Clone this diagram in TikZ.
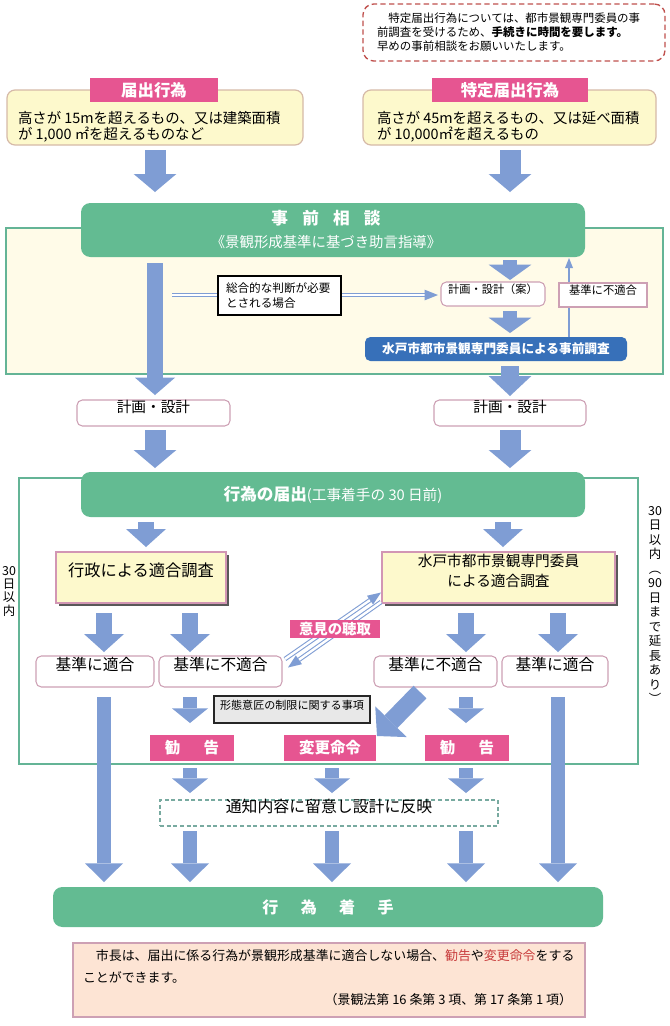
\documentclass[tikz,border=0pt]{standalone}
\usepackage{fontspec}
\setmainfont{Noto Sans CJK JP}
\usetikzlibrary{arrows.meta,calc,fit,shadows}
\newcommand{\fsz}[2]{\fontsize{#1}{#2}\selectfont}
\definecolor{arrowB}{RGB}{127,157,212}
\definecolor{greenB}{RGB}{99,187,146}
\definecolor{pinkH}{RGB}{230,85,145}
\definecolor{yfill}{RGB}{253,249,204}
\definecolor{ybord}{RGB}{214,186,168}
\definecolor{tealF}{RGB}{100,180,150}
\definecolor{frameY}{RGB}{255,251,232}
\definecolor{pbord}{RGB}{205,160,180}
\definecolor{shbord}{RGB}{210,150,180}
\definecolor{blueB}{RGB}{55,112,185}
\definecolor{noteR}{RGB}{192,80,77}
\definecolor{peach}{RGB}{253,228,212}
\definecolor{redT}{RGB}{200,60,60}
\definecolor{grayF}{RGB}{232,232,232}
\definecolor{dashG}{RGB}{120,170,160}
\begin{document}
\begin{tikzpicture}[x=0.75pt,y=-0.75pt,
  every node/.style={inner sep=0pt,outer sep=0pt},
  hdr/.style={fill=pinkH,text=white,font=\fsz{12.3pt}{14pt}\bfseries},
  ybox/.style={draw=ybord,fill=yfill,line width=0.9pt,rounded corners=6pt},
  gbox/.style={fill=greenB,rounded corners=7pt,text=white,align=center},
  pbox/.style={draw=pbord,fill=white,line width=0.8pt,rounded corners=4pt},
  sqbox/.style={draw=pbord,fill=white,line width=0.8pt},
  shbox/.style={draw=shbord,fill=yfill,line width=1.3pt,drop shadow={shadow xshift=2.2pt,shadow yshift=-2.2pt,fill=black!65,opacity=1}},
  frameS/.style={draw=tealF,line width=1pt},
  tagbox/.style={fill=pinkH,text=white,font=\fsz{11.6pt}{13pt}\bfseries},
  arrA/.style={draw=arrowB,line width=15.75pt,-{Triangle[length=13.5pt,width=32pt,line width=0pt]}},
  arrL/.style={draw=arrowB,line width=12pt,-{Triangle[length=13pt,width=30pt,line width=0pt]}},
  arrS/.style={draw=arrowB,line width=10pt,-{Triangle[length=11.5pt,width=32pt,line width=0pt]}},
  arrS2/.style={draw=arrowB,line width=13pt,-{Triangle[length=15pt,width=32pt,line width=0pt]}},
  arrB/.style={draw=arrowB,line width=12pt,-{Triangle[length=13.5pt,width=30pt,line width=0pt]}},
  arrC/.style={draw=arrowB,line width=10pt,-{Triangle[length=11pt,width=27pt,line width=0pt]}},
  arrD/.style={draw=arrowB,line width=13.5pt,-{Triangle[length=15pt,width=33pt,line width=0pt]}},
  arrE/.style={draw=arrowB,line width=11pt,-{Triangle[length=14pt,width=28.5pt,line width=0pt]}},
  thinA/.style={draw=arrowB,line width=1.1pt,-{Triangle[length=7.5pt,width=6pt,line width=0pt]}},
  dblA/.style={draw=arrowB,line width=0.8pt,double=white,double distance=1.8pt,-{Triangle[length=10pt,width=8pt,line width=0pt]}},
]
\useasboundingbox (0,0) rectangle (670,1026);
\fill[white] (0,0) rectangle (670,1026);

% column coordinates
\coordinate (xA) at (155,0);
\coordinate (xB) at (510,0);
\coordinate (xC) at (146,0);
\coordinate (xD) at (503,0);
\coordinate (x1) at (104,0);
\coordinate (x2) at (190,0);
\coordinate (x3) at (466,0);
\coordinate (x4) at (558,0);
\coordinate (xM) at (332,0);
\coordinate (xT) at (569,0);

% frames
\node[frameS,fill=frameY,fit={(6,228)(663,374)}] (fr1) {};
\node[frameS,fill=white,fit={(19,478)(638,764)}] (fr2) {};

% top note
\node[draw=noteR,line width=1pt,dash pattern=on 4pt off 2.5pt,rounded corners=8pt,fill=white,fit={(363,4)(665,61)}] (note) {};
\node[anchor=west,align=left,font=\fsz{8.6pt}{10.5pt}] (notet) at (377,32)
  {\hspace{1em}特定届出行為については、都市景観専門委員の事\\前調査を受けるため、\textbf{手続きに時間を要します。}\\早めの事前相談をお願いいたします。};

% yellow boxes
\node[ybox,fit={(7,90)(303,145)}] (yL) {};
\node[hdr,fit={(90,78)(218,102)}] (hL) {};
\node at (hL) [text=white,font=\fsz{12.3pt}{14pt}\bfseries] {届出行為};
\node[anchor=west,align=left,font=\fsz{10.8pt}{11.8pt}] (yLt) at (18,127)
  {高さが 15mを超えるもの、又は建築面積\\が 1,000 ㎡を超えるものなど};
\node[ybox,fit={(363,90)(656,145)}] (yR) {};
\node[hdr,fit={(432,78)(588,102)}] (hR) {};
\node at (hR) [text=white,font=\fsz{12.3pt}{14pt}\bfseries] {特定届出行為};
\node[anchor=west,align=left,font=\fsz{10.8pt}{11.8pt}] (yRt) at (377,127)
  {高さが 45mを超えるもの、又は延べ面積\\が 10,000㎡を超えるもの};

% 事前相談
\node[gbox,fit={(81,203)(585,257)}] (jz) {};
\node[text=white,font=\fsz{12.5pt}{14pt}\bfseries] (jzt) at (326,218) {事\hspace{0.85em}前\hspace{0.85em}相\hspace{0.85em}談};
\node[text=white,font=\fsz{10.8pt}{13pt}] (jzs) at (326,242) {《景観形成基準に基づき助言指導》};

\node[pbox,fit={(441,282)(545,306)},font=\fsz{8.4pt}{10pt}] (an) {計画・設計（案）};
\node[fill=blueB,rounded corners=4pt,fit={(365,337)(627,361)}] (chosa) {};
\node[text=white,font=\fsz{9.5pt}{11pt}\bfseries] at (chosa) {水戸市都市景観専門委員による事前調査};

% thin return arrow and box
\draw[thinA] (xT |- chosa.north) -- ($(xT |- jz.south)+(0,1)$);
\node[sqbox,fit={(559,283)(647,307)},font=\fsz{8.5pt}{10pt}] (fut1) {基準に不適合};

% double arrow
\coordinate (ds) at (172,295);
\draw[dblA] (ds) -- ($(ds -| an.west)+(-3,0)$);
\node[draw=black,line width=1pt,fill=white,fit={(218,276)(341,315)}] (sogo) {};
\node[anchor=west,align=left,font=\fsz{8.7pt}{11.25pt}] at (226,295.5) {総合的な判断が必要\\とされる場合};

% 計画・設計
\node[pbox,fit={(77,400)(230,426)},font=\fsz{11pt}{13pt}] (kL) {計画・設計};
\node[pbox,fit={(434,400)(586,426)},font=\fsz{11pt}{13pt}] (kR) {計画・設計};

% 行為の届出
\node[gbox,fit={(81,472)(585,517)}] (todo) {};
\node[text=white] at (333,495) {{\fsz{12.5pt}{14pt}\bfseries 行為の届出}{\fsz{11pt}{13pt}(工事着手の 30 日前)}};

\node[shbox,fit={(56,552)(226,603)},font=\fsz{12.2pt}{14pt}] (gyo) {行政による適合調査};
\node[shbox,fit={(382,552)(615,603)},align=center,font=\fsz{11pt}{15pt}] (mito) {水戸市都市景観専門委員\\による適合調査};

% vertical texts
\node[align=center,anchor=north,font=\fsz{9.3pt}{10.9pt}] (vr) at (655,506) {30\\日\\以\\内\\︵\\90\\日\\ま\\で\\延\\長\\あ\\り\\︶};
\node[align=center,anchor=north,font=\fsz{9.3pt}{10pt}] (vl) at (9,566) {30\\日\\以\\内};

% result row
\node[pbox,fit={(36,656)(154,687)},font=\fsz{11.8pt}{13pt}] (r1) {基準に適合};
\node[pbox,fit={(159,656)(282,687)},font=\fsz{11.8pt}{13pt}] (r2) {基準に不適合};
\node[pbox,fit={(374,656)(497,687)},font=\fsz{11.8pt}{13pt}] (r3) {基準に不適合};
\node[pbox,fit={(502,656)(608,687)},font=\fsz{11.8pt}{13pt}] (r4) {基準に適合};

% 意見の聴取 double arrows
\draw[dblA] ($(r2.north east)+(3,3)$) -- ($(mito.west)+(-1,15)$);
\draw[dblA] ($(mito.south west)+(-1,-1)$) -- ($(r2.east)+(6,-4)$);
\node[tagbox,fit={(290,620)(380,638)},font=\fsz{10.8pt}{12pt}\bfseries] (iken) {};
\node[text=white,font=\fsz{10.8pt}{12pt}\bfseries] at (iken) {意見の聴取};

\node[draw=black!85,line width=1pt,fill=grayF,fit={(214,696)(370,723)},font=\fsz{8.3pt}{10pt}] (keitai) {形態意匠の制限に関する事項};

\node[tagbox,fit={(150,735)(234,761)}] (kan1) {};
\node[text=white,font=\fsz{11.6pt}{13pt}\bfseries] at (kan1) {勧\hspace{1.5em}告};
\node[tagbox,fit={(284,735)(376,761)}] (henko) {};
\node[text=white,font=\fsz{11.6pt}{13pt}\bfseries] at (henko) {変更命令};
\node[tagbox,fit={(425,735)(509,761)}] (kan2) {};
\node[text=white,font=\fsz{11.6pt}{13pt}\bfseries] at (kan2) {勧\hspace{1.5em}告};

\node[draw=dashG,line width=0.9pt,dash pattern=on 3pt off 2pt,fill=white,fit={(160,800)(498,826)},font=\fsz{11.9pt}{13pt}] (tsuchi) {通知内容に留意し設計に反映};

\node[gbox,fit={(53,887)(603,927)}] (chak) {};
\node[text=white,font=\fsz{12pt}{14pt}\bfseries] at (chak) {行\hspace{1.4em}為\hspace{1.4em}着\hspace{1.4em}手};

% bottom note
\node[draw=pbord,line width=0.8pt,fill=peach,fit={(73,943)(585,1017)}] (bn) {};
\node[anchor=west,align=left,font=\fsz{9.7pt}{16.5pt}] at (83,966)
  {\hspace{1em}市長は、届出に係る行為が景観形成基準に適合しない場合、{\color{redT}勧告}や{\color{redT}変更命令}をする\\ことができます。};
\node[anchor=east,font=\fsz{9.7pt}{12pt}] at (572,1000) {（景観法第 16 条第 3 項、第 17 条第 1 項）};

% block arrows
\draw[arrA] ($(xA |- yL.south)+(0,5)$) -- ($(xA |- jz.north)+(0,-11)$);
\draw[arrA] ($(xB |- yR.south)+(0,5)$) -- ($(xB |- jz.north)+(0,-11)$);
\draw[arrL] ($(xA |- jz.south)+(0,6)$) -- ($(xA |- kL.north)+(0,-5)$);
\draw[arrS] ($(xB |- jz.south)+(0,3)$) -- ($(xB |- an.north)+(0,-2)$);
\draw[arrS] ($(xB |- an.south)+(0,5)$) -- ($(xB |- chosa.north)+(0,-4)$);
\draw[arrS2] ($(xB |- chosa.south)+(0,5)$) -- ($(xB |- kR.north)+(0,-4)$);
\draw[arrA] ($(xA |- kL.south)+(0,4)$) -- ($(xA |- todo.north)+(0,-4)$);
\draw[arrA] ($(xB |- kR.south)+(0,4)$) -- ($(xB |- todo.north)+(0,-4)$);
\draw[arrB] ($(xC |- todo.south)+(0,5)$) -- ($(xC |- gyo.north)+(0,-5)$);
\draw[arrB] ($(xD |- todo.south)+(0,5)$) -- ($(xD |- mito.north)+(0,-5)$);
\draw[arrB] ($(x1 |- gyo.south)+(0,10)$) -- ($(x1 |- r1.north)+(0,-4)$);
\draw[arrB] ($(x2 |- gyo.south)+(0,10)$) -- ($(x2 |- r2.north)+(0,-4)$);
\draw[arrB] ($(x3 |- mito.south)+(0,10)$) -- ($(x3 |- r3.north)+(0,-4)$);
\draw[arrB] ($(x4 |- mito.south)+(0,10)$) -- ($(x4 |- r4.north)+(0,-4)$);
\draw[arrC] ($(x2 |- r2.south)+(0,10)$) -- ($(x2 |- kan1.north)+(0,-12)$);
\draw[arrC] ($(x3 |- r3.south)+(0,10)$) -- ($(x3 |- kan2.north)+(0,-12)$);
\draw[arrD] ($(r3.south west)+(46,5)$) -- ($(henko.north east)+(1,1)$);
\draw[arrC] ($(x2 |- kan1.south)+(0,7)$) -- ($(x2 |- tsuchi.north)+(0,-7)$);
\draw[arrC] ($(xM |- henko.south)+(0,7)$) -- ($(xM |- tsuchi.north)+(0,-7)$);
\draw[arrC] ($(x3 |- kan2.south)+(0,7)$) -- ($(x3 |- tsuchi.north)+(0,-7)$);
\draw[arrE] ($(x2 |- tsuchi.south)+(0,5)$) -- ($(x2 |- chak.north)+(0,-5)$);
\draw[arrE] ($(xM |- tsuchi.south)+(0,5)$) -- ($(xM |- chak.north)+(0,-5)$);
\draw[arrE] ($(x3 |- tsuchi.south)+(0,5)$) -- ($(x3 |- chak.north)+(0,-5)$);
\draw[arrE] ($(x1 |- r1.south)+(0,10)$) -- ($(x1 |- chak.north)+(0,-5)$);
\draw[arrE] ($(x4 |- r4.south)+(0,10)$) -- ($(x4 |- chak.north)+(0,-5)$);
\end{tikzpicture}
\end{document}
